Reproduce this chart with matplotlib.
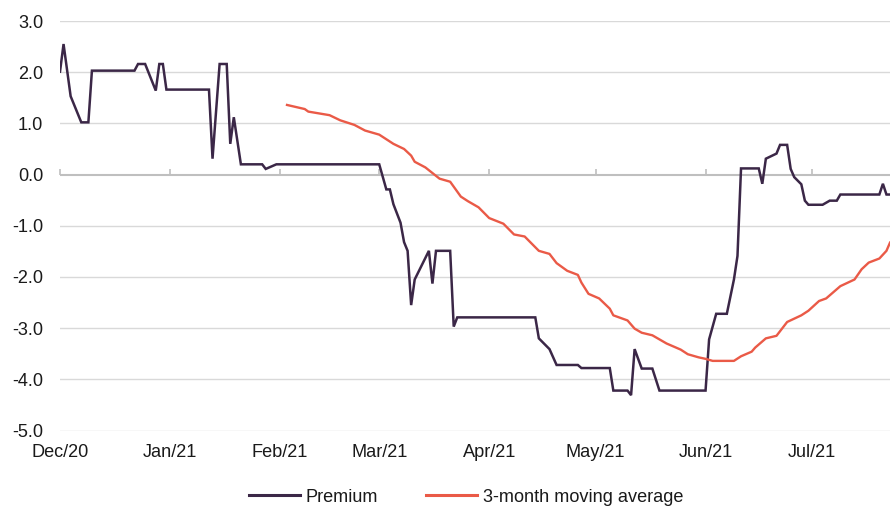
import matplotlib
matplotlib.use("Agg")
import matplotlib.pyplot as plt
import pandas as pd

plt.rcParams["font.family"] = ["Liberation Sans", "DejaVu Sans"]
plt.rcParams["axes.unicode_minus"] = False

# Share price premium/(discount) to NAV, %
premium_dates = [
    "2020-12-01", "2020-12-02", "2020-12-04", "2020-12-07", "2020-12-09", "2020-12-10",
    "2020-12-22", "2020-12-23", "2020-12-25", "2020-12-28", "2020-12-29", "2020-12-30",
    "2020-12-31", "2021-01-12", "2021-01-13", "2021-01-15", "2021-01-17", "2021-01-18",
    "2021-01-19", "2021-01-21", "2021-01-27", "2021-01-28", "2021-01-31", "2021-03-01",
    "2021-03-03", "2021-03-04", "2021-03-05", "2021-03-07", "2021-03-08", "2021-03-09",
    "2021-03-10", "2021-03-11", "2021-03-15", "2021-03-16", "2021-03-17", "2021-03-21",
    "2021-03-22", "2021-03-23", "2021-04-14", "2021-04-15", "2021-04-18", "2021-04-20",
    "2021-04-26", "2021-04-27", "2021-05-05", "2021-05-06", "2021-05-10", "2021-05-11",
    "2021-05-12", "2021-05-14", "2021-05-17", "2021-05-19", "2021-06-01", "2021-06-02",
    "2021-06-04", "2021-06-07", "2021-06-09", "2021-06-10", "2021-06-11", "2021-06-16",
    "2021-06-17", "2021-06-18", "2021-06-21", "2021-06-22", "2021-06-24", "2021-06-25",
    "2021-06-26", "2021-06-28", "2021-06-29", "2021-06-30", "2021-07-04", "2021-07-06",
    "2021-07-08", "2021-07-09", "2021-07-20", "2021-07-21", "2021-07-22", "2021-07-23",
]
premium_values = [
    2.01, 2.55, 1.53, 1.02, 1.02, 2.03,
    2.03, 2.16, 2.16, 1.64, 2.16, 2.16,
    1.66, 1.66, 0.31, 2.16, 2.16, 0.60,
    1.12, 0.20, 0.20, 0.11, 0.20, 0.20,
    -0.29, -0.29, -0.58, -0.94, -1.32, -1.49,
    -2.55, -2.05, -1.49, -2.13, -1.49, -1.49,
    -2.97, -2.79, -2.79, -3.20, -3.41, -3.72,
    -3.72, -3.78, -3.78, -4.22, -4.22, -4.31,
    -3.41, -3.79, -3.79, -4.22, -4.22, -3.22,
    -2.72, -2.72, -2.05, -1.59, 0.12, 0.12,
    -0.18, 0.31, 0.41, 0.58, 0.58, 0.11,
    -0.05, -0.19, -0.51, -0.59, -0.59, -0.51,
    -0.51, -0.39, -0.39, -0.18, -0.39, -0.39,
]

# 3-month moving average of the premium, %
ma_dates = [
    "2021-02-03", "2021-02-08", "2021-02-09", "2021-02-15", "2021-02-18", "2021-02-22",
    "2021-02-25", "2021-03-01", "2021-03-05", "2021-03-08", "2021-03-10", "2021-03-11",
    "2021-03-14", "2021-03-18", "2021-03-21", "2021-03-24", "2021-03-26", "2021-03-29",
    "2021-04-01", "2021-04-05", "2021-04-08", "2021-04-11", "2021-04-15", "2021-04-18",
    "2021-04-20", "2021-04-23", "2021-04-26", "2021-04-27", "2021-04-29", "2021-05-02",
    "2021-05-05", "2021-05-06", "2021-05-10", "2021-05-12", "2021-05-14", "2021-05-17",
    "2021-05-21", "2021-05-25", "2021-05-27", "2021-05-30", "2021-06-01", "2021-06-03",
    "2021-06-09", "2021-06-11", "2021-06-14", "2021-06-15", "2021-06-18", "2021-06-21",
    "2021-06-24", "2021-06-28", "2021-06-30", "2021-07-03", "2021-07-05", "2021-07-09",
    "2021-07-13", "2021-07-15", "2021-07-17", "2021-07-20", "2021-07-22", "2021-07-23",
]
ma_values = [
    1.36, 1.28, 1.23, 1.16, 1.06, 0.97,
    0.86, 0.78, 0.60, 0.50, 0.37, 0.25,
    0.14, -0.08, -0.14, -0.43, -0.52, -0.64,
    -0.85, -0.96, -1.17, -1.21, -1.49, -1.55,
    -1.73, -1.88, -1.96, -2.11, -2.33, -2.42,
    -2.62, -2.75, -2.85, -3.01, -3.09, -3.14,
    -3.30, -3.42, -3.51, -3.57, -3.60, -3.64,
    -3.64, -3.55, -3.46, -3.38, -3.20, -3.15,
    -2.88, -2.75, -2.66, -2.47, -2.42, -2.18,
    -2.05, -1.85, -1.72, -1.64, -1.49, -1.33,
]

month_ticks = ["2020-12-01", "2021-01-01", "2021-02-01", "2021-03-01",
               "2021-04-01", "2021-05-01", "2021-06-01", "2021-07-01"]
month_labels = ["Dec/20", "Jan/21", "Feb/21", "Mar/21",
                "Apr/21", "May/21", "Jun/21", "Jul/21"]
y_ticks = [-5, -4, -3, -2, -1, 0, 1, 2, 3]

premium_color = "#3B2747"
ma_color = "#EA5A47"
grid_color = "#D9D9D9"
axis_color = "#BFBFBF"
text_color = "#1A1A1A"
fs = 13.1

fig = plt.figure(figsize=(8.94, 5.08), dpi=100)
ax = fig.add_axes([60 / 894, 1 - 430.5 / 508, 830 / 894, 409.5 / 508])

p_x = pd.to_datetime(premium_dates)
m_x = pd.to_datetime(ma_dates)
ticks_x = pd.to_datetime(month_ticks)

ax.plot(p_x, premium_values, color=premium_color, lw=1.8, label="Premium",
        solid_joinstyle="miter", zorder=3)
ax.plot(m_x, ma_values, color=ma_color, lw=1.7, label="3-month moving average",
        zorder=3)

ax.set_ylim(y_ticks[0], y_ticks[-1])
ax.set_xlim(ticks_x[0], p_x[-1])
ax.set_yticks(y_ticks)
ax.set_yticklabels([f"{v:.1f}" for v in y_ticks], fontsize=fs, color=text_color)
ax.tick_params(axis="y", length=0, pad=12)

# horizontal gridlines; the zero line doubles as the category axis
for v in y_ticks:
    if v == 0:
        ax.axhline(v, color=axis_color, lw=1.5, zorder=2)
    else:
        ax.axhline(v, color=grid_color, lw=1.0, zorder=1)

for s in ax.spines.values():
    s.set_visible(False)

# date labels along the bottom, no tick marks there
ax.set_xticks(ticks_x)
ax.set_xticklabels(month_labels, fontsize=fs, color=text_color)
ax.tick_params(axis="x", length=0, pad=10)

# month tick marks hanging from the zero line
zero_pos = (0 - y_ticks[0]) / (y_ticks[-1] - y_ticks[0])
sec = ax.secondary_xaxis(zero_pos)
sec.set_xticks(ticks_x)
sec.set_xticklabels([])
sec.tick_params(axis="x", direction="out", length=4, width=1.2, color=axis_color)
for s in sec.spines.values():
    s.set_visible(False)

leg = fig.legend(loc="center", bbox_to_anchor=(466 / 894, 1 - 497 / 508), ncol=2,
                 frameon=False, fontsize=fs, handlelength=2.8, handletextpad=0.35,
                 columnspacing=2.6, borderpad=0.0, borderaxespad=0.0)
for t in leg.get_texts():
    t.set_color(text_color)
for h in leg.get_lines():
    h.set_linewidth(2.2)

fig.savefig("out.png", dpi=100)
